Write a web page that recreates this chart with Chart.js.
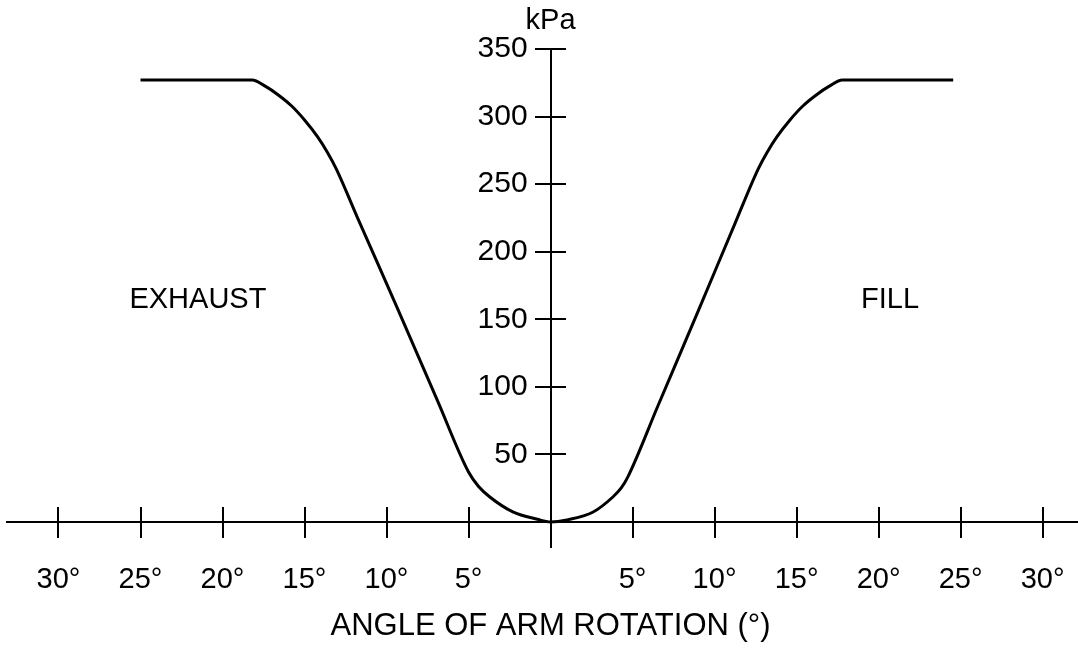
<!DOCTYPE html>
<html>
<head>
<meta charset="utf-8">
<title>Angle of arm rotation</title>
<script src="https://cdn.jsdelivr.net/npm/chart.js@4.4.0/dist/chart.umd.min.js"></script>
<style>
  html, body { margin: 0; padding: 0; background: #fff; }
  canvas { display: block; }
</style>
</head>
<body>
<canvas id="chart" width="1078" height="649"></canvas>
<script>
// curve: degrees of arm rotation (exhaust < 0 < fill) vs kPa
var angles   = [-25, -18.2, -17.4, -16.6, -15.8, -15.0, -14.2, -13.6, -13.05, -11.8, -9.4, -6.9, -5.0, -4.4, -3.7, -2.3, -0.8, 0,
                1.0, 2.6, 3.8, 4.3, 4.7, 6.55, 9, 11.25, 12.65, 13.2, 13.8, 14.6, 15.4, 16.2, 17.0, 17.8, 24.55]
var pressure = [327, 327, 322.5, 316, 308, 297.5, 285, 273.5, 261, 226, 160, 90, 37, 26.5, 18.5, 7.5, 2, 0,
                1.5, 7.4, 18.5, 25, 33, 86, 156, 221, 261, 273.5, 285, 297.5, 308, 316, 322.5, 327, 327]

var angleTicks    = [-30, -25, -20, -15, -10, -5, 0, 5, 10, 15, 20, 25, 30]
var pressureTicks = [0, 50, 100, 150, 200, 250, 300, 350]

var regionLabels   = ["EXHAUST", "FILL"]
var regionAngles   = [-21.5, 20.7]
var regionPressure = 164
var unitLabel = "kPa"
var axisTitle = "ANGLE OF ARM ROTATION (°)"

var FONT_FAMILY = "'Liberation Sans', Arial, Helvetica, sans-serif"
var FONT_SIZE = 29

Chart.defaults.color = '#000'
Chart.defaults.font.family = FONT_FAMILY
Chart.defaults.font.size = FONT_SIZE

var X_MIN = -33.14, X_MAX = 32.16
var Y_MIN = -18.5, Y_MAX = 350

function useTicks(list) {
	return function(scale) {
		scale.ticks = list.map(function(v) { return {value: v} })
	}
}

// an axis pinned inside the plot; tickLen < 0 draws the marks on the other side
function axis(kind, where, ticks, tickLen, showBorder) {
	return {
		type: 'linear',
		min: kind == 'x' ? X_MIN : Y_MIN,
		max: kind == 'x' ? X_MAX : Y_MAX,
		position: where,
		afterBuildTicks: useTicks(ticks),
		border: { display: showBorder, color: '#000', width: 2 },
		grid: { drawOnChartArea: false, drawTicks: tickLen != 0, color: '#000', tickColor: '#000', tickLength: tickLen, tickWidth: 2, lineWidth: 2 },
		ticks: { display: false, autoSkip: false, maxRotation: 0, minRotation: 0 }
	}
}

var xAxis = axis('x', {y: 0}, angleTicks, 15, true)
xAxis.ticks.display = true
xAxis.ticks.padding = 10
xAxis.ticks.font = { size: 29, lineHeight: 2.3 }
xAxis.ticks.callback = function(v) { return v === 0 ? '' : Math.abs(v) + '°' }

// y labels sit a little left of the axis, so they get a scale of their own
var yLabels = axis('y', {x: -1.4}, pressureTicks, 0, false)
yLabels.ticks.display = true
yLabels.ticks.font = { size: 30 }
yLabels.ticks.callback = function(v) { return v === 0 ? '' : v }

var textPlugin = {
	id: 'texts',
	afterDraw: function(chart) {
		var ctx = chart.ctx, x = chart.scales.x, y = chart.scales.y
		ctx.save()
		ctx.fillStyle = '#000'
		ctx.textAlign = 'center'
		ctx.textBaseline = 'middle'
		ctx.font = FONT_SIZE + 'px ' + FONT_FAMILY
		for (var i = 0; i < regionLabels.length; i++) {
			ctx.fillText(regionLabels[i], x.getPixelForValue(regionAngles[i]), y.getPixelForValue(regionPressure))
		}
		ctx.fillText(unitLabel, x.getPixelForValue(0), y.getPixelForValue(Y_MAX) - 28)
		ctx.font = '31px ' + FONT_FAMILY
		ctx.fillText(axisTitle, x.getPixelForValue(0), y.getPixelForValue(0) + 104)
		ctx.restore()
	}
}

var points = []
for (var i = 0; i < angles.length; i++) {
	points.push({x: angles[i], y: pressure[i]})
}

new Chart(document.getElementById('chart'), {
	type: 'line',
	data: {
		datasets: [{
			data: points,
			borderColor: '#000',
			borderWidth: 3,
			pointRadius: 0,
			fill: false,
			cubicInterpolationMode: 'monotone'
		}]
	},
	options: {
		responsive: false,
		animation: false,
		layout: { padding: { left: 7, right: 0, top: 49, bottom: 102 } },
		plugins: { legend: { display: false }, tooltip: { enabled: false } },
		scales: {
			x:  xAxis,
			x2: axis('x', {y: 0}, angleTicks, -15, false),
			y:  axis('y', {x: 0}, pressureTicks, 15, true),
			y2: axis('y', {x: 0}, pressureTicks, -15, false),
			yl: yLabels
		}
	},
	plugins: [textPlugin]
})
</script>
</body>
</html>
